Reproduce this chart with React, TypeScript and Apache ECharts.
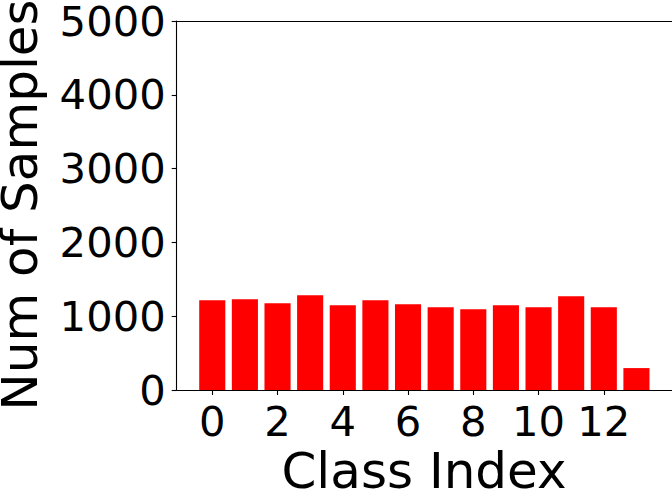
import React, { useEffect, useRef } from "react";
import * as echarts from "echarts";

const classIndex = [0, 1, 2, 3, 4, 5, 6, 7, 8, 9, 10, 11, 12, 13];
const numSamples = [1216, 1230, 1176, 1284, 1149, 1216, 1162, 1122, 1095, 1149, 1122, 1270, 1122, 297];
const xTicks = [0, 2, 4, 6, 8, 10, 12];
const yTicks = [0, 1000, 2000, 3000, 4000, 5000];

const FONT = "DejaVu Sans";

export default function App() {
  const ref = useRef<HTMLDivElement>(null);
  useEffect(() => {
    if (!ref.current) return;
    const chart = echarts.init(ref.current, null, { renderer: "svg" });
    const xMin = -1.09;
    const xMax = 14.09;
    chart.setOption({
      animation: false,
      backgroundColor: "#ffffff",
      grid: { left: 176.7, top: 20.3, width: 495.8, height: 369.7, show: false },
      xAxis: [
        {
          type: "value",
          min: xMin,
          max: xMax,
          position: "bottom",
          splitLine: { show: false },
          axisLine: { show: true, onZero: false, lineStyle: { color: "#000", width: 1.1 } },
          axisTick: { show: true, customValues: xTicks, length: 5, inside: false, lineStyle: { color: "#000", width: 1.1 } },
          axisLabel: {
            show: true,
            customValues: xTicks,
            margin: 10,
            fontFamily: FONT,
            fontSize: 41.7,
            color: "#000",
            formatter: (v: number) => String(v),
          },
        },
        {
          type: "value",
          min: xMin,
          max: xMax,
          position: "top",
          splitLine: { show: false },
          axisLine: { show: true, onZero: false, lineStyle: { color: "#000", width: 1.1 } },
          axisTick: { show: false },
          axisLabel: { show: false },
        },
      ],
      yAxis: {
        type: "value",
        min: 0,
        max: 5000,
        interval: 1000,
        position: "left",
        splitLine: { show: false },
        axisLine: { show: true, onZero: false, lineStyle: { color: "#000", width: 1.1 } },
        axisTick: { show: true, customValues: yTicks, length: 5, lineStyle: { color: "#000", width: 1.1 } },
        axisLabel: {
          margin: 11,
          fontFamily: FONT,
          fontSize: 41.7,
          color: "#000",
          customValues: yTicks,
          formatter: (v: number) => String(v),
        },
      },
      series: [
        {
          type: "bar",
          xAxisIndex: 0,
          data: classIndex.map((c, i) => [c, numSamples[i]]),
          barWidth: 26.1,
          itemStyle: { color: "#ff0000" },
        },
      ],
      graphic: [
        {
          type: "text",
          x: 20,
          y: 205,
          rotation: Math.PI / 2,
          style: {
            text: "Num of Samples",
            fontFamily: FONT,
            fontSize: 50,
            fill: "#000",
            align: "center",
            verticalAlign: "middle",
          },
        },
        {
          type: "text",
          x: 424,
          y: 471,
          style: {
            text: "Class Index",
            fontFamily: FONT,
            fontSize: 50,
            fill: "#000",
            align: "center",
            verticalAlign: "middle",
          },
        },
      ],
    });
    return () => chart.dispose();
  }, []);
  return (
    <div
      ref={ref}
      style={{ position: "fixed", left: 0, top: 0, width: 672, height: 496 }}
    />
  );
}
